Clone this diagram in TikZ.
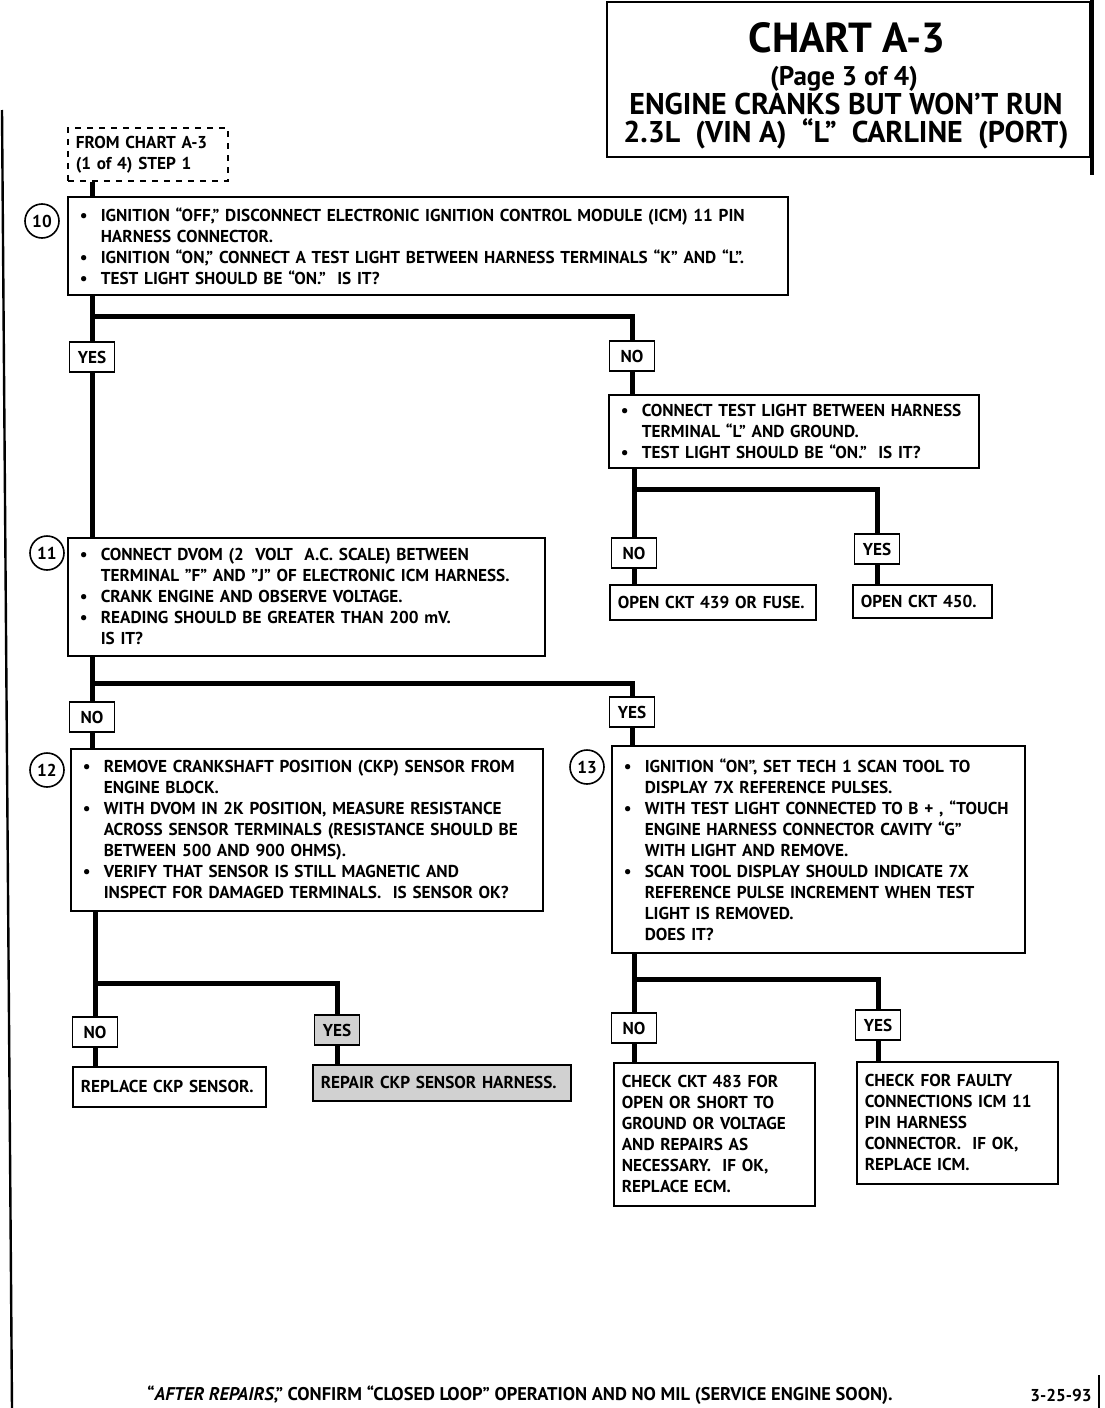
\documentclass[tikz,border=0pt]{standalone}
\usepackage{fontspec}
\setmainfont{PT Sans}
\usetikzlibrary{positioning}

\newcommand{\chartfont}{\fontsize{8.6}{10.5}\selectfont\bfseries}
\newcommand{\bl}{\makebox[10.5pt][l]{\textbullet}}
\newcommand{\ind}{\hspace*{10.5pt}}

\tikzset{
  stepbox/.style={draw, line width=0.8pt, anchor=north west, align=left,
    inner xsep=6pt, inner ysep=2pt, font=\chartfont},
  resultbox/.style={stepbox, inner xsep=4pt},
  answer/.style={draw, line width=0.8pt, minimum width=22.5pt,
    minimum height=15pt, inner sep=2pt, font=\chartfont},
  stepnum/.style={draw, circle, line width=0.8pt, minimum size=17pt,
    inner sep=0pt, font=\chartfont},
  titletext/.style={inner sep=0pt, align=center},
  shaded/.style={fill=black!18},
  flow/.style={line width=2.5pt},
}

\begin{document}
\begin{tikzpicture}[x=0.5pt,y=-0.5pt]
\useasboundingbox (0,0) rectangle (1104,1408);

% page frame
\draw[line width=1.2pt] (2,110) -- (12,1408);
\draw[line width=2pt] (1092,0) -- (1092,175);
\draw[line width=1.2pt] (1099,1375) -- (1099,1408);

% title block
\draw[line width=0.8pt] (607,2) rectangle (1090,157);
\node[titletext] (title) at (847,38) {\fontsize{21}{21}\selectfont\bfseries CHART A-3};
\node[titletext] (page) at (844,79) {\fontsize{13.5}{13.5}\selectfont\bfseries (Page 3 of 4)};
\node[titletext, font=\fontsize{15}{14}\selectfont\bfseries] (heading) at (846,121)
  {ENGINE CRANKS BUT WON’T RUN\\2.3L\ \ (VIN A)\ \ “L”\ \ CARLINE\ \ (PORT)};

% entry
\node[stepbox, dashed, inner xsep=4pt, text width=72pt, minimum height=26.5pt] (from) at (67,127)
  {FROM CHART A-3\\(1 of 4) STEP 1};

% step 10
\node[stepbox, text width=348pt, minimum height=49pt] (s10) at (67,196)
  {\bl IGNITION “OFF,” DISCONNECT ELECTRONIC IGNITION CONTROL MODULE (ICM) 11 PIN\\
   \ind HARNESS CONNECTOR.\\
   \bl IGNITION “ON,” CONNECT A TEST LIGHT BETWEEN HARNESS TERMINALS “K” AND “L”.\\
   \bl TEST LIGHT SHOULD BE “ON.”\ \ IS IT?};
\node[stepnum] (n10) at (42,221) {10};

\node[answer] (yes1) at (92,357) {YES};
\node[answer] (no1) at (632,356) {NO};
\coordinate (b10) at (92,316);

% step 10, NO side
\node[stepbox, text width=173pt, minimum height=36.5pt] (t10) at (608,394)
  {\bl CONNECT TEST LIGHT BETWEEN HARNESS\\
   \ind TERMINAL “L” AND GROUND.\\
   \bl TEST LIGHT SHOULD BE “ON.”\ \ IS IT?};
\node[answer] (no2) at (634,553) {NO};
\node[answer] (yes2) at (877,549) {YES};
\coordinate (b20) at (634,489);
\node[resultbox, text width=95pt, minimum height=17.5pt] (open439) at (609,584) {OPEN CKT 439 OR FUSE.};
\node[resultbox, text width=61.5pt, minimum height=16.5pt] (open450) at (852,584) {OPEN CKT 450.};

% step 11
\node[stepbox, text width=226.5pt, minimum height=59pt] (s11) at (67,537)
  {\bl CONNECT DVOM (2\ \ VOLT\ \ A.C. SCALE) BETWEEN\\
   \ind TERMINAL "F" AND "J" OF ELECTRONIC ICM HARNESS.\\
   \bl CRANK ENGINE AND OBSERVE VOLTAGE.\\
   \bl READING SHOULD BE GREATER THAN 200 mV.\\
   \ind IS IT?};
\node[stepnum] (n11) at (47,553) {11};

\node[answer] (no3) at (92,717) {NO};
\node[answer] (yes3) at (632,712) {YES};
\coordinate (b11) at (92,683);

% step 12
\node[stepbox, text width=224pt, minimum height=81pt] (s12) at (70,748)
  {\bl REMOVE CRANKSHAFT POSITION (CKP) SENSOR FROM\\
   \ind ENGINE BLOCK.\\
   \bl WITH DVOM IN 2K POSITION, MEASURE RESISTANCE\\
   \ind ACROSS SENSOR TERMINALS (RESISTANCE SHOULD BE\\
   \ind BETWEEN 500 AND 900 OHMS).\\
   \bl VERIFY THAT SENSOR IS STILL MAGNETIC AND\\
   \ind INSPECT FOR DAMAGED TERMINALS.\ \ IS SENSOR OK?};
\node[stepnum] (n12) at (47,770) {12};

\node[answer] (no4) at (95,1032) {NO};
\node[answer, shaded] (yes4) at (337,1030) {YES};
\coordinate (b12) at (95,983);
\node[resultbox, text width=88.5pt, minimum height=20pt] (replace) at (72,1066) {REPLACE CKP SENSOR.};
\node[resultbox, shaded, text width=121pt, minimum height=18pt] (repair) at (312,1064) {REPAIR CKP SENSOR HARNESS.};

% step 13
\node[stepbox, text width=194.5pt, minimum height=103.5pt] (s13) at (611,745)
  {\bl IGNITION “ON”, SET TECH 1 SCAN TOOL TO\\
   \ind DISPLAY 7X REFERENCE PULSES.\\
   \bl WITH TEST LIGHT CONNECTED TO B + , “TOUCH\\
   \ind ENGINE HARNESS CONNECTOR CAVITY “G”\\
   \ind WITH LIGHT AND REMOVE.\\
   \bl SCAN TOOL DISPLAY SHOULD INDICATE 7X\\
   \ind REFERENCE PULSE INCREMENT WHEN TEST\\
   \ind LIGHT IS REMOVED.\\
   \ind DOES IT?};
\node[stepnum] (n13) at (587,767) {13};

\node[answer] (no5) at (634,1028) {NO};
\node[answer] (yes5) at (878,1025) {YES};
\coordinate (b13) at (634,979);
\node[resultbox, text width=92.5pt, minimum height=71.5pt] (check483) at (613,1062)
  {CHECK CKT 483 FOR\\OPEN OR SHORT TO\\GROUND OR VOLTAGE\\AND REPAIRS AS\\NECESSARY.\ \ IF OK,\\REPLACE ECM.};
\node[resultbox, text width=92.5pt, minimum height=61pt] (faulty) at (856,1061)
  {CHECK FOR FAULTY\\CONNECTIONS ICM 11\\PIN HARNESS\\CONNECTOR.\ \ IF OK,\\REPLACE ICM.};

% flow lines
\draw[flow] (yes1 |- from.south) -- (yes1 |- s10.north);
\draw[flow] (yes1 |- s10.south) -- (yes1.north);
\draw[flow] (b10) -| (no1.north);
\draw[flow] (yes1.south) -- (yes1 |- s11.north);
\draw[flow] (no1.south) -- (no1 |- t10.north);
\draw[flow] (no2 |- t10.south) -- (no2.north);
\draw[flow] (b20) -| (yes2.north);
\draw[flow] (no2.south) -- (no2 |- open439.north);
\draw[flow] (yes2.south) -- (yes2 |- open450.north);

\draw[flow] (no3 |- s11.south) -- (no3.north);
\draw[flow] (b11) -| (yes3.north);
\draw[flow] (no3.south) -- (no3 |- s12.north);
\draw[flow] (yes3.south) -- (yes3 |- s13.north);

\draw[flow] (no4 |- s12.south) -- (no4.north);
\draw[flow] (b12) -| (yes4.north);
\draw[flow] (no4.south) -- (no4 |- replace.north);
\draw[flow] (yes4.south) -- (yes4 |- repair.north);

\draw[flow] (no5 |- s13.south) -- (no5.north);
\draw[flow] (b13) -| (yes5.north);
\draw[flow] (no5.south) -- (no5 |- check483.north);
\draw[flow] (yes5.south) -- (yes5 |- faulty.north);

% footer
\node[font=\fontsize{9.2}{11}\selectfont\bfseries] (note) at (520,1395)
  {“\textit{AFTER REPAIRS},” CONFIRM “CLOSED LOOP” OPERATION AND NO MIL (SERVICE ENGINE SOON).};
\node[font=\chartfont] (date) at (1061,1395) {3-25-93};
\end{tikzpicture}
\end{document}
